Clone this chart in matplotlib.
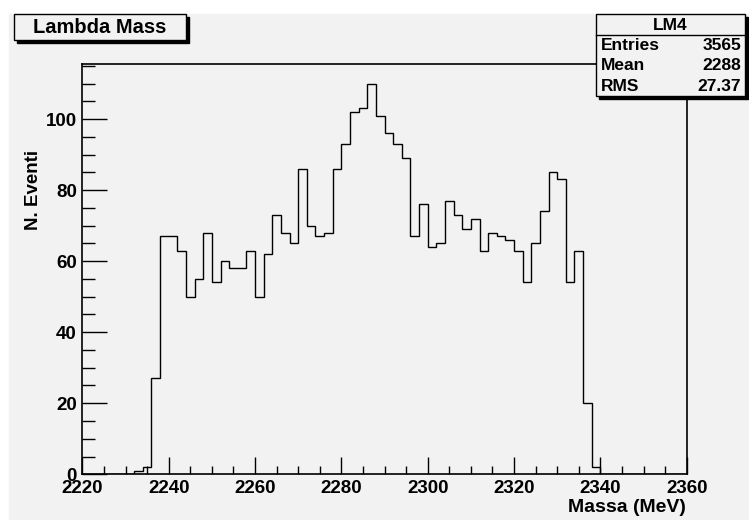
"""
Lambda Mass - istogramma LM4 (stile ROOT)
"""
import matplotlib.pyplot as plt
import numpy as np
from matplotlib.patches import Rectangle
from matplotlib.ticker import MultipleLocator

# bin di 2 MeV da 2220 a 2360
bin_edges = np.arange(2220, 2362, 2)

# conteggi: primo bin non vuoto = 2232
first_bin = 2232
counts_nonzero = [1, 2, 27, 67, 67, 63, 50, 55, 68, 54, 60, 58, 58, 63, 50, 62,
                  73, 68, 65, 86, 70, 67, 68, 86, 93, 102, 103, 110, 101, 96,
                  93, 89, 67, 76, 64, 65, 77, 73, 69, 72, 63, 68, 67, 66, 63,
                  54, 65, 74, 85, 83, 54, 63, 20, 2]

stats_labels = ["Entries", "Mean", "RMS"]
stats_values = ["3565", "2288", "27.37"]

counts = np.zeros(len(bin_edges) - 1)
i0 = (first_bin - 2220) // 2
counts[i0:i0 + len(counts_nonzero)] = counts_nonzero

W, H = 749, 520
fig = plt.figure(figsize=(W / 100, H / 100), dpi=100)
fig.patch.set_facecolor('white')
bg = '#f2f2f2'
fig.patches.append(Rectangle((9 / W, 0), 1 - 9 / W, 1 - 14 / H,
                             transform=fig.transFigure, color=bg, zorder=-5))

font = ['Liberation Sans', 'DejaVu Sans']

# assi (pixel: sx 82.4, dx 686.7, alto 64, basso 474.3)
ax = fig.add_axes([82.4 / W, 1 - 474.3 / H, (686.7 - 82.4) / W, (474.3 - 64) / H])
ax.set_zorder(1)
ax.set_facecolor(bg)
ax.stairs(counts, bin_edges, color='black', lw=1.0)
ax.set_xlim(2220, 2360)
ax.set_ylim(0, 115.5)

ax.xaxis.set_major_locator(MultipleLocator(20))
ax.xaxis.set_minor_locator(MultipleLocator(5))
ax.yaxis.set_major_locator(MultipleLocator(20))
ax.yaxis.set_minor_locator(MultipleLocator(5))
ax.tick_params(axis='x', which='major', direction='in', length=12, width=1, pad=4)
ax.tick_params(axis='x', which='minor', direction='in', length=6, width=1)
ax.tick_params(axis='y', which='major', direction='in', length=18, width=1, pad=4)
ax.tick_params(axis='y', which='minor', direction='in', length=9, width=1)
for lab in ax.get_xticklabels() + ax.get_yticklabels():
    lab.set_family(font)
    lab.set_fontweight('bold')
    lab.set_fontsize(13.5)
for sp in ax.spines.values():
    sp.set_linewidth(1.2)

fig.text(686 / W, 1 - 508 / H, 'Massa (MeV)', ha='right', va='center',
         family=font, fontweight='bold', fontsize=14)
fig.text(33 / W, 1 - 150 / H, 'N. Eventi', ha='center', va='top', rotation=90,
         family=font, fontweight='bold', fontsize=13.5)


def box(x0, y0, x1, y1):
    # riquadro con ombra alla ROOT (coordinate in pixel)
    fig.patches.append(Rectangle((x0 / W + 3 / W, 1 - (y1 + 3) / H), (x1 - x0) / W, (y1 - y0) / H,
                                 transform=fig.transFigure, color='black', zorder=3))
    fig.patches.append(Rectangle((x0 / W, 1 - y1 / H), (x1 - x0) / W, (y1 - y0) / H,
                                 transform=fig.transFigure, facecolor=bg,
                                 edgecolor='black', lw=1, zorder=4))


# titolo
box(14, 14, 186, 40)
fig.text(100 / W, 1 - 27.5 / H, 'Lambda Mass', ha='center', va='center',
         family=font, fontweight='bold', fontsize=14.5, zorder=5)

# statistiche
box(596, 14, 745, 96)
fig.lines.append(plt.Line2D([596 / W, 745 / W], [1 - 35 / H, 1 - 35 / H],
                            transform=fig.transFigure, color='black', lw=1, zorder=5))
fig.text(670 / W, 1 - 25 / H, 'LM4', ha='center', va='center',
         family=font, fontweight='bold', fontsize=12.5, zorder=5)
for k, (lab, val) in enumerate(zip(stats_labels, stats_values)):
    y = 1 - (45.5 + k * 20.5) / H
    fig.text(601 / W, y, lab, ha='left', va='center',
             family=font, fontweight='bold', fontsize=12.5, zorder=5)
    fig.text(741 / W, y, val, ha='right', va='center',
             family=font, fontweight='bold', fontsize=12.5, zorder=5)

plt.savefig('out.png', dpi=100, facecolor=fig.get_facecolor())
